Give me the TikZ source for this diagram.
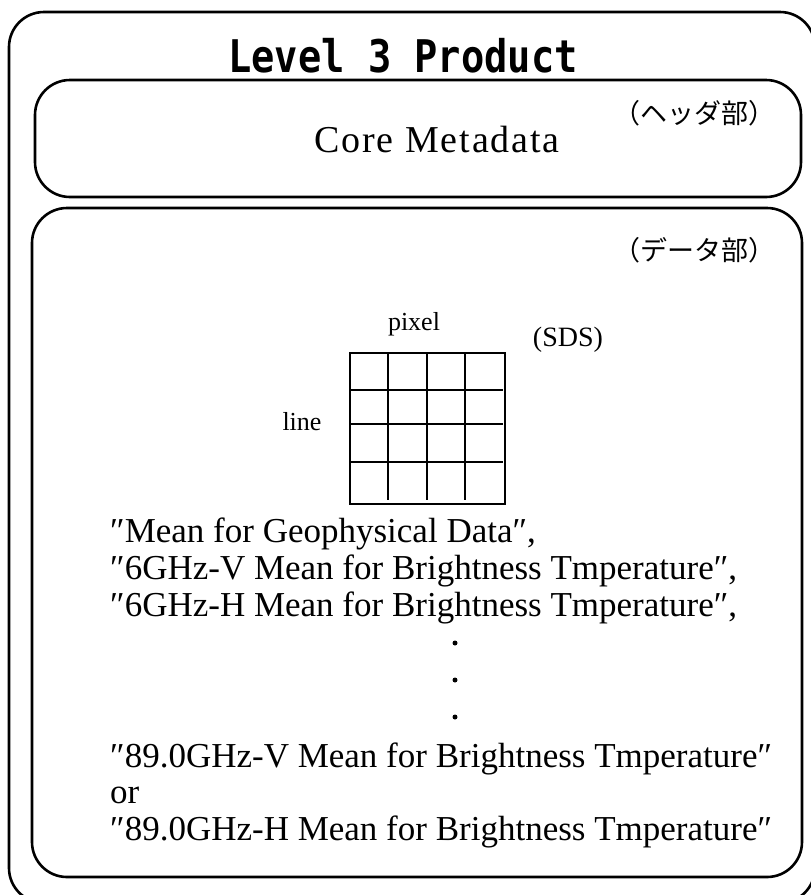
\documentclass[tikz,border=0pt]{standalone}
\usepackage{fontspec}
\setmainfont{Liberation Serif}
\newfontfamily\gothic[FakeStretch=0.86]{DejaVu Sans Mono Bold}
\newfontfamily\spaced[LetterSpace=5]{Liberation Serif}
\newfontfamily\jpfont{Noto Sans CJK JP}
\begin{document}
\begin{tikzpicture}[x=1pt,y=-1pt,
  box/.style={draw, line width=2.6pt, rounded corners=35pt},
  gridline/.style={line width=2.7pt},
  bodytext/.style={font=\fontsize{35}{40}\selectfont, anchor=base west, inner sep=0pt},
  jplabel/.style={font=\jpfont\fontsize{27}{30}\selectfont, anchor=east, inner sep=0pt},
  smalllabel/.style={font=\fontsize{26}{30}\selectfont, anchor=base, inner sep=0pt},
  dotmark/.style={circle, fill, inner sep=0pt, minimum size=5pt}]
\useasboundingbox (0,0) rectangle (811,895);
\fill[white] (0,0) rectangle (811,895);
\clip (0,0) rectangle (811,895);
% boxes
\draw[box] (9,12) rectangle (815,903);
\draw[box] (35,80) rectangle (801,197);
\draw[box] (32,208) rectangle (802,877);
% title
\node[font={\gothic\fontsize{45}{50}\selectfont}, anchor=base, inner sep=0pt] (title) at (403,72) {Level 3 Product};
% header part
\node[jplabel] (hdr) at (776,113) {（ヘッダ部）};
\node[font={\spaced\fontsize{38}{42}\selectfont}, anchor=base, inner sep=0pt] (core) at (437,152) {Core Metadata};
% data part
\node[jplabel] (dat) at (776,250) {（データ部）};
\node[smalllabel] (pixel) at (414,330) {pixel};
\node[smalllabel] (line) at (302,430) {line};
\node[font=\fontsize{28}{32}\selectfont, anchor=center, inner sep=0pt] (sds) at (568,340) {(SDS)};
% grid
\draw[gridline] (350,353) rectangle (505,504);
\foreach \x in {388,427,465} \draw[gridline] (\x,353) -- (\x,500);
\foreach \y in {390,424,462} \draw[gridline] (350,\y) -- (503,\y);
% text lines
\node[bodytext] (l1) at (110,542) {″Mean for Geophysical Data″,};
\node[bodytext] (l2) at (110,579) {″6GHz-V Mean for Brightness Tmperature″,};
\node[bodytext] (l3) at (110,616) {″6GHz-H Mean for Brightness Tmperature″,};
\node[dotmark] (d1) at (455,643) {};
\node[dotmark] (d2) at (455,680) {};
\node[dotmark] (d3) at (455,717) {};
\node[bodytext] (l4) at (110,767) {″89.0GHz-V Mean for Brightness Tmperature″};
\node[bodytext] (l5) at (110,803) {or};
\node[bodytext] (l6) at (110,840) {″89.0GHz-H Mean for Brightness Tmperature″};
\end{tikzpicture}
\end{document}
